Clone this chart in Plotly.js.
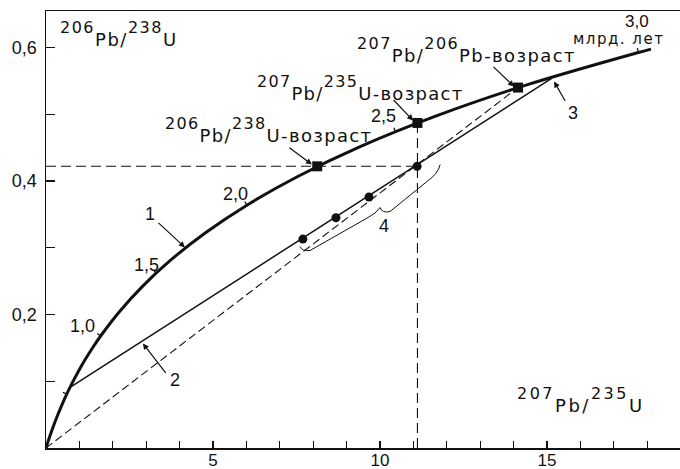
<!DOCTYPE html>
<html>
<head>
<meta charset="utf-8">
<script src="https://cdn.plot.ly/plotly-3.0.1.min.js"></script>
<style>
html,body{margin:0;padding:0;background:#fff;}
#chart{width:680px;height:469px;}
</style>
</head>
<body>
<div id="chart"></div>
<script>
// ---- data ----
// concordia curve (207Pb/235U , 206Pb/238U), points at 0.1-0.2 Ga steps up to ~3.0 Ga
const concordiaX = [0, 0.1009, 0.2123, 0.3351, 0.4707, 0.6204, 0.7855, 0.9677, 1.1687, 1.3907, 1.6355, 2.2038, 2.8958, 3.7385, 4.7647, 6.0143, 7.5360, 9.3887, 11.645, 14.393, 17.738, 18.111];
const concordiaY = [0, 0.0156, 0.0315, 0.0476, 0.0640, 0.0807, 0.0975, 0.1147, 0.1321, 0.1498, 0.1678, 0.2046, 0.2426, 0.2817, 0.3221, 0.3638, 0.4067, 0.4511, 0.4968, 0.5440, 0.5926, 0.5976];
// age ticks on concordia (billion years)
const ageTickLabels = ['0,5', '1,0', '1,5', '2,0', '2,5', '3,0'];
const ageTickX = [0.6204, 1.6355, 3.2969, 6.0143, 10.462, 17.738];
const ageTickY = [0.0807, 0.1678, 0.2620, 0.3638, 0.4738, 0.5926];
// discordia (line 2), from lower to upper intercept (3)
const discordiaX = [0.72, 15.15];
const discordiaY = [0.091, 0.554];
// dashed line from origin to 207Pb/206Pb age point
const originLineX = [0, 14.13];
const originLineY = [0, 0.540];
// sample points (4)
const sampleX = [7.69, 8.68, 9.67, 11.11];
const sampleY = [0.313, 0.345, 0.376, 0.422];
// age points on concordia: 206/238, 207/235, 207/206
const agePointX = [8.12, 11.12, 14.13];
const agePointY = [0.422, 0.487, 0.540];
// projections of the discordant point
const projHX = [0, 11.12];
const projHY = [0.422, 0.422];
const projVX = [11.12, 11.12];
const projVY = [0, 0.487];
// axis ticks
const xTickVals = [1,2,3,4,5,6,7,8,9,10,11,12,13,14,15,16,17,18];
const xTickText = ['','','','','5','','','','','10','','','','','15','','',''];
const yTickVals = [0.1,0.2,0.3,0.4,0.5,0.6];
const yTickText = ['','0,2','','0,4','','0,6'];

// ---- styling ----
const INK = '#111';
const FONT = 'DejaVu Sans, Liberation Sans, sans-serif';
const NUMFONT = 'Liberation Sans, Arial, sans-serif';
const curveAngles = [64, 54, 42, 31, 22, 15];   // screen angle of the curve at each tick (deg)
const TICKLEN = 6;
const sup = n => '<span style="font-size:16px;baseline-shift:13px">' + n + '</span>';
const spaced = (s, ls) => '<span style="letter-spacing:' + ls + 'px">' + s + '</span>';

const traces = [
  {x: concordiaX, y: concordiaY, mode: 'lines', line: {color: INK, width: 3, shape: 'spline', smoothing: 1}, hoverinfo: 'skip'},
  {x: discordiaX, y: discordiaY, mode: 'lines', line: {color: INK, width: 1.5}, hoverinfo: 'skip'},
  {x: originLineX, y: originLineY, mode: 'lines', line: {color: INK, width: 1.1, dash: '8px,4px'}, hoverinfo: 'skip'},
  {x: projHX, y: projHY, mode: 'lines', line: {color: INK, width: 1.1, dash: '10px,5px'}, hoverinfo: 'skip'},
  {x: projVX, y: projVY, mode: 'lines', line: {color: INK, width: 1.1, dash: '10px,5px'}, hoverinfo: 'skip'},
  {x: sampleX, y: sampleY, mode: 'markers', marker: {symbol: 'circle', size: 9, color: INK}, hoverinfo: 'skip'},
  {x: agePointX, y: agePointY, mode: 'markers', marker: {symbol: 'square', size: 10, color: INK}, hoverinfo: 'skip'}
];

const txt = (text, x, y, xanchor, size, family, yanchor) => ({
  text: text, x: x, y: y, xref: 'x', yref: 'y', showarrow: false,
  xanchor: xanchor || 'center', yanchor: yanchor || 'middle',
  font: {family: family || FONT, size: size || 17, color: INK}
});
const isoLabel = (text, x, y, ls) => txt(spaced(text, ls), x, y, 'left', 18, FONT, 'bottom');
const arrow = (x, y, ax, ay) => ({
  text: '', x: x, y: y, xref: 'x', yref: 'y', ax: ax, ay: ay,
  showarrow: true, arrowhead: 2, arrowsize: 1, arrowwidth: 1.2, arrowcolor: INK
});
// short perpendicular tick on the upper-left side of the concordia
const ageTick = (i) => {
  const r = curveAngles[i] * Math.PI / 180;
  return {text: '', x: ageTickX[i], y: ageTickY[i], xref: 'x', yref: 'y',
          ax: -TICKLEN * Math.sin(r), ay: -TICKLEN * Math.cos(r),
          showarrow: true, arrowhead: 0, arrowwidth: 1.3, arrowcolor: INK, standoff: 0, startstandoff: 0};
};

const annotations = [
  isoLabel(sup('206') + 'Pb/' + sup('238') + 'U', 0.36, 0.593, 1.5),
  isoLabel(sup('207') + 'Pb/' + sup('235') + 'U', 14.05, 0.0447, 2.5),
  isoLabel(sup('207') + 'Pb/' + sup('206') + 'Pb-возраст', 9.25, 0.569, 1.4),
  isoLabel(sup('207') + 'Pb/' + sup('235') + 'U-возраст', 6.26, 0.512, 1.3),
  isoLabel(sup('206') + 'Pb/' + sup('238') + 'U-возраст', 3.50, 0.449, 1.35),
  txt('3,0', 17.70, 0.6385, 'center', 17, NUMFONT),
  txt(spaced('млрд. лет', 1.5), 17.13, 0.613, 'center', 15),
  txt(ageTickLabels[4], 10.10, 0.497, 'center', 18, NUMFONT),
  txt(ageTickLabels[3], 5.66, 0.3805, 'center', 18, NUMFONT),
  txt(ageTickLabels[2], 3.02, 0.274, 'center', 18, NUMFONT),
  txt(ageTickLabels[1], 1.08, 0.1835, 'center', 18, NUMFONT),
  txt('1', 3.11, 0.3506, 'center', 18, NUMFONT),
  txt('2', 3.86, 0.1019, 'center', 18, NUMFONT),
  txt('3', 15.78, 0.5019, 'center', 18, NUMFONT),
  txt('4', 10.12, 0.3333, 'center', 18, NUMFONT),
  arrow(4.16, 0.3004, -28, -26),
  arrow(2.90, 0.1566, 24, 31),
  arrow(15.21, 0.5491, 12, 21),
  arrow(7.96, 0.4247, -24, -18),
  arrow(10.99, 0.4906, -21, -22),
  arrow(14.01, 0.5416, -22, -21)
].concat(ageTickX.map((_, i) => ageTick(i)));

const shapes = [
  {type: 'path', xref: 'x', yref: 'y', line: {color: INK, width: 1},
   path: 'M 7.605 0.3019 Q 7.665 0.2944 7.904 0.2959 L 9.641 0.3453 Q 9.88 0.3513 10.0 0.3603 Q 10.06 0.3513 10.30 0.3543 L 11.44 0.4007 Q 11.74 0.4112 11.80 0.4247'}
];

const layout = {
  width: 680, height: 469,
  margin: {l: 46, r: 0, t: 11, b: 21},
  paper_bgcolor: '#fff', plot_bgcolor: '#fff',
  showlegend: false,
  font: {family: FONT, size: 16, color: INK},
  xaxis: {range: [0, 18.98], showgrid: false, zeroline: false, showline: true, mirror: true,
          linecolor: INK, linewidth: 1.5, ticks: 'inside', ticklen: 7, tickwidth: 1.2, tickcolor: INK,
          tickvals: xTickVals, ticktext: xTickText, ticklabelstandoff: -4,
          tickfont: {family: NUMFONT, size: 17, color: INK}},
  yaxis: {range: [0, 0.6547], showgrid: false, zeroline: false, showline: true,
          linecolor: INK, linewidth: 1.5, ticks: 'inside', ticklen: 9, tickwidth: 1.2, tickcolor: INK,
          tickvals: yTickVals, ticktext: yTickText, ticklabelstandoff: 4,
          tickfont: {family: NUMFONT, size: 18, color: INK}},
  annotations: annotations,
  shapes: shapes
};

Plotly.newPlot('chart', traces, layout, {staticPlot: true, displayModeBar: false});
</script>
</body>
</html>
